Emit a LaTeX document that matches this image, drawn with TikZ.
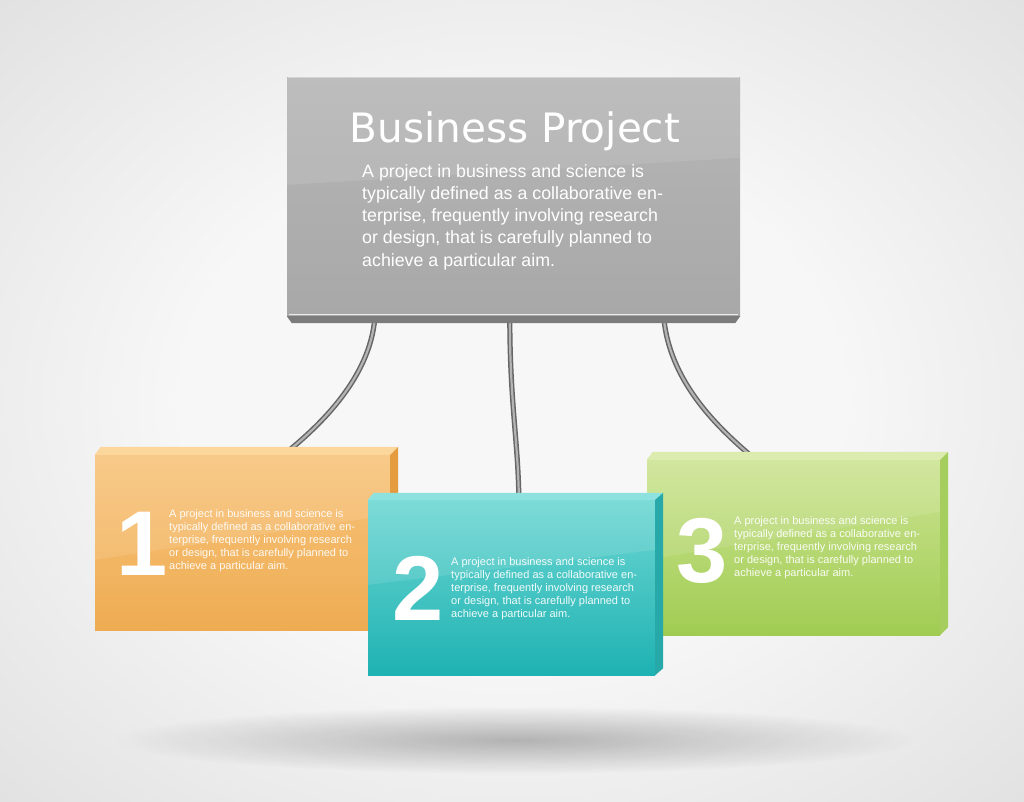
\documentclass[tikz,border=0pt]{standalone}
\usepackage{fontspec}
\setmainfont{Liberation Sans}
\newfontfamily\titlefont{DejaVu Sans}
\usetikzlibrary{calc,fadings}
\pgfdeclarelayer{bg}
\pgfdeclarelayer{cab}
\pgfsetlayers{bg,cab,main}
\definecolor{bgin}{HTML}{F7F7F7}
\definecolor{bgout}{HTML}{D2D2D2}
\definecolor{grayA}{HTML}{B6B6B6}
\definecolor{grayB}{HTML}{A8A8A8}
\definecolor{grayBot}{HTML}{7C7C7C}
\definecolor{orA}{HTML}{F8C47C}
\definecolor{orB}{HTML}{EEAC52}
\definecolor{orTop}{HTML}{FBD79C}
\definecolor{orSide}{HTML}{E49C3E}
\definecolor{teA}{HTML}{6ED7D3}
\definecolor{teB}{HTML}{1EB2B2}
\definecolor{teTop}{HTML}{8DE2DF}
\definecolor{teSide}{HTML}{27A9A9}
\definecolor{grA}{HTML}{CDE494}
\definecolor{grB}{HTML}{A0CC52}
\definecolor{grTop}{HTML}{DBECAE}
\definecolor{grSide}{HTML}{A6CE5E}
\definecolor{cabdark}{HTML}{666666}
\definecolor{cablight}{HTML}{B4B4B4}
\pgfdeclareradialshading{bgshade}{\pgfpoint{0bp}{0bp}}{color(0bp)=(bgin); color(16bp)=(bgin); color(50bp)=(bgout); color(72bp)=(bgout)}
\tikzfading[name=shadowfade, inner color=transparent!0, outer color=transparent!100]
\begin{document}
\begin{tikzpicture}[x=1pt,y=-1pt,
  frontface/.style={draw=none, inner sep=0, shape=rectangle},
  gloss/.style={fill=white, opacity=0.10},
  cable/.style={draw=cabdark, line width=1.5, double=cablight, double distance=2.2},
  titletext/.style={text=white, inner sep=0, font=\titlefont\fontsize{40.5}{48}\selectfont},
  maintext/.style={text=white, inner sep=0, align=left, font=\fontsize{17.8}{22.25}\selectfont},
  smalltext/.style={text=white, opacity=0.92, inner sep=0, align=left, font=\fontsize{11}{13}\selectfont},
  numtext/.style={text=white, inner sep=0, font=\bfseries\fontsize{92}{92}\selectfont}
]
\useasboundingbox (0,0) rectangle (1024,801);
\begin{pgfonlayer}{bg}
  \path[shading=bgshade] (0,0) rectangle (1024,801);
  \fill[black, opacity=0.26, path fading=shadowfade] (515,740) ellipse (400 and 34);
\end{pgfonlayer}

% main board
\node[frontface, minimum width=453, minimum height=239, top color=grayA, bottom color=grayB] (main) at (513.5,196.5) {};
\fill[gloss] (main.north west) -- (main.north east) -- ($(main.north east)+(0,81)$) -- ($(main.north west)+(0,108)$) -- cycle;
\draw[white, opacity=0.35, line width=1] ($(main.north west)+(1,1)$) -- ($(main.north east)+(-1,1)$);
\fill[grayBot] (main.south west) -- (main.south east) -- ($(main.south east)+(-5,7)$) -- ($(main.south west)+(5,7)$) -- cycle;
\draw[white!85!gray, line width=1.2] ($(main.south west)+(2,-1.5)$) -- ($(main.south east)+(-2,-1.5)$);
\node[titletext, anchor=base] (title) at (515,142) {Business Project};
\node[maintext, anchor=base west] (mtext) at (362,266) {A project in business and science is\\typically defined as a collaborative en-\\terprise, frequently involving research\\or design, that is carefully planned to\\achieve a particular aim.};

% box 1
\node[frontface, minimum width=295, minimum height=175, top color=orA, bottom color=orB] (b1) at (242.5,542.5) {};
\fill[orTop] (b1.north west) -- (b1.north east) -- ($(b1.north east)+(8,-8)$) -- ($(b1.north west)+(6,-8)$) -- cycle;
\fill[orSide] (b1.north east) -- ($(b1.north east)+(8,-8)$) -- ($(b1.south east)+(8,-8)$) -- (b1.south east) -- cycle;
\fill[gloss] (b1.north west) -- (b1.north east) -- ($(b1.north east)+(0,60)$) -- ($(b1.north west)+(0,105)$) -- cycle;
\node[numtext, anchor=base] (n1) at (142,575) {1};
\node[smalltext, anchor=base west] (t1) at (169,569) {A project in business and science is\\typically defined as a collaborative en-\\terprise, frequently involving research\\or design, that is carefully planned to\\achieve a particular aim.};

% box 3
\node[frontface, minimum width=293, minimum height=175, top color=grA, bottom color=grB] (b3) at (793.5,547.5) {};
\fill[grTop] (b3.north west) -- (b3.north east) -- ($(b3.north east)+(8,-8)$) -- ($(b3.north west)+(6,-8)$) -- cycle;
\fill[grSide] (b3.north east) -- ($(b3.north east)+(8,-8)$) -- ($(b3.south east)+(8,-8)$) -- (b3.south east) -- cycle;
\fill[gloss] (b3.north west) -- (b3.north east) -- ($(b3.north east)+(0,52)$) -- ($(b3.north west)+(0,100)$) -- cycle;
\node[numtext, anchor=base] (n3) at (702,582) {3};
\node[smalltext, anchor=base west] (t3) at (734,576) {A project in business and science is\\typically defined as a collaborative en-\\terprise, frequently involving research\\or design, that is carefully planned to\\achieve a particular aim.};

% box 2
\node[frontface, minimum width=287, minimum height=175, top color=teA, bottom color=teB] (b2) at (511.5,587.5) {};
\fill[teTop] (b2.north west) -- (b2.north east) -- ($(b2.north east)+(8,-7)$) -- ($(b2.north west)+(6,-7)$) -- cycle;
\fill[teSide] (b2.north east) -- ($(b2.north east)+(8,-7)$) -- ($(b2.south east)+(8,-7)$) -- (b2.south east) -- cycle;
\fill[gloss] (b2.north west) -- (b2.north east) -- ($(b2.north east)+(0,50)$) -- ($(b2.north west)+(0,85)$) -- cycle;
\node[numtext, anchor=base] (n2) at (418,620) {2};
\node[smalltext, anchor=base west] (t2) at (451,617) {A project in business and science is\\typically defined as a collaborative en-\\terprise, frequently involving research\\or design, that is carefully planned to\\achieve a particular aim.};

% cables
\coordinate (c1a) at ($(main.south west)+(88,2)$);
\coordinate (c1b) at ($(b1.north west)+(195,-5)$);
\coordinate (c2a) at ($(main.south west)+(223,2)$);
\coordinate (c2b) at ($(b2.north west)+(151,-5)$);
\coordinate (c3a) at ($(main.south west)+(377,2)$);
\coordinate (c3b) at ($(b3.north west)+(103,-5)$);
\begin{pgfonlayer}{cab}
  \draw[cable] (c1a) .. controls +(-5,60) and +(30,-25) .. (c1b);
  \draw[cable] (c2a) .. controls +(0,82) and +(-1,-55) .. (c2b);
  \draw[cable] (c3a) .. controls +(6,62) and +(-35,-30) .. (c3b);
\end{pgfonlayer}
\end{tikzpicture}
\end{document}
